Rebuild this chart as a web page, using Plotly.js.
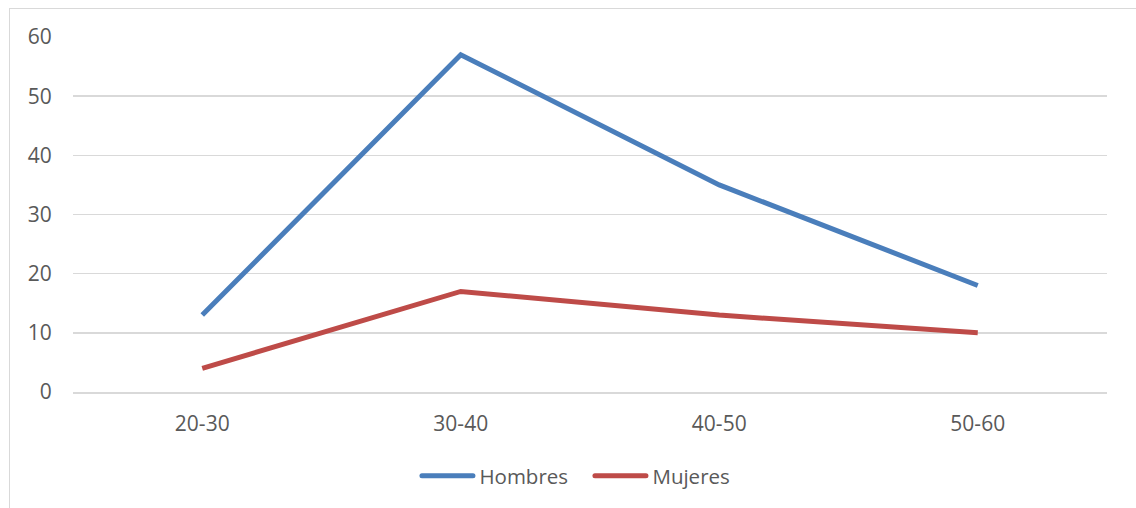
<!DOCTYPE html>
<html>
<head>
<meta charset="utf-8">
<script src="https://cdn.plot.ly/plotly-3.0.1.min.js"></script>
<style>
html,body{margin:0;padding:0;overflow:hidden;background:#fff;}
#frame{position:absolute;left:9px;top:8px;width:1200px;height:600px;border:1.5px solid #d9d9d9;box-sizing:border-box;pointer-events:none;z-index:5;}
#chart{position:absolute;left:0;top:0;width:1136px;height:508px;}
#chart .legend .legendlines path{d:path("M -17.5 0 h 51");stroke-linecap:round;}
#chart .legend .scrollbox, #chart .legend [clip-path]{clip-path:none !important;}
</style>
</head>
<body>
<div id="chart"></div>
<div id="frame"></div>
<script>
const categories = ["20-30", "30-40", "40-50", "50-60"];
const hombres = [13, 57, 35, 18];
const mujeres = [4, 17, 13, 10];
const seriesNames = ["Hombres", "Mujeres"];

const traces = [
  {x: categories, y: hombres, name: seriesNames[0], type: "scatter", mode: "lines",
   line: {color: "#4A7EBB", width: 5}},
  {x: categories, y: mujeres, name: seriesNames[1], type: "scatter", mode: "lines",
   line: {color: "#BE4B48", width: 5}}
];

const layout = {
  width: 1136, height: 508,
  margin: {l: 73, r: 29, t: 37, b: 116, autoexpand: false},
  paper_bgcolor: "#ffffff", plot_bgcolor: "#ffffff",
  font: {family: "Open Sans, sans-serif", size: 21, color: "#595959"},
  showlegend: true,
  legend: {orientation: "h", x: 0.5217, xanchor: "center", y: -0.2366, yanchor: "middle",
           bgcolor: "rgba(0,0,0,0)",
           font: {size: 20.5, color: "#595959"}, entrywidth: 128, entrywidthmode: "pixels"},
  xaxis: {type: "category", range: [-0.5, 3.5], showgrid: false, zeroline: false,
          showline: true, linecolor: "#d9d9d9", linewidth: 1.5,
          tickfont: {size: 21},
          ticks: "outside", ticklen: 12, tickcolor: "rgba(0,0,0,0)", fixedrange: true},
  yaxis: {range: [0, 60], dtick: 10, showgrid: true, gridcolor: "#d9d9d9", gridwidth: 1.5,
          tickfont: {size: 21},
          zeroline: false, showline: false, ticks: "outside", ticklen: 16,
          tickcolor: "rgba(0,0,0,0)", fixedrange: true}
};

function fixLegend() {
  document.querySelectorAll("#chart .legendlines path").forEach(function (p) {
    p.setAttribute("d", "M-17.5,0h51");
    p.style.strokeLinecap = "round";
  });
  document.querySelectorAll("#chart .legend [clip-path]").forEach(function (el) {
    el.removeAttribute("clip-path");
  });
}
Plotly.newPlot("chart", traces, layout, {displayModeBar: false, staticPlot: true}).then(function (gd) {
  fixLegend();
  gd.on("plotly_afterplot", fixLegend);
  setTimeout(fixLegend, 50);
});
</script>
</body>
</html>
